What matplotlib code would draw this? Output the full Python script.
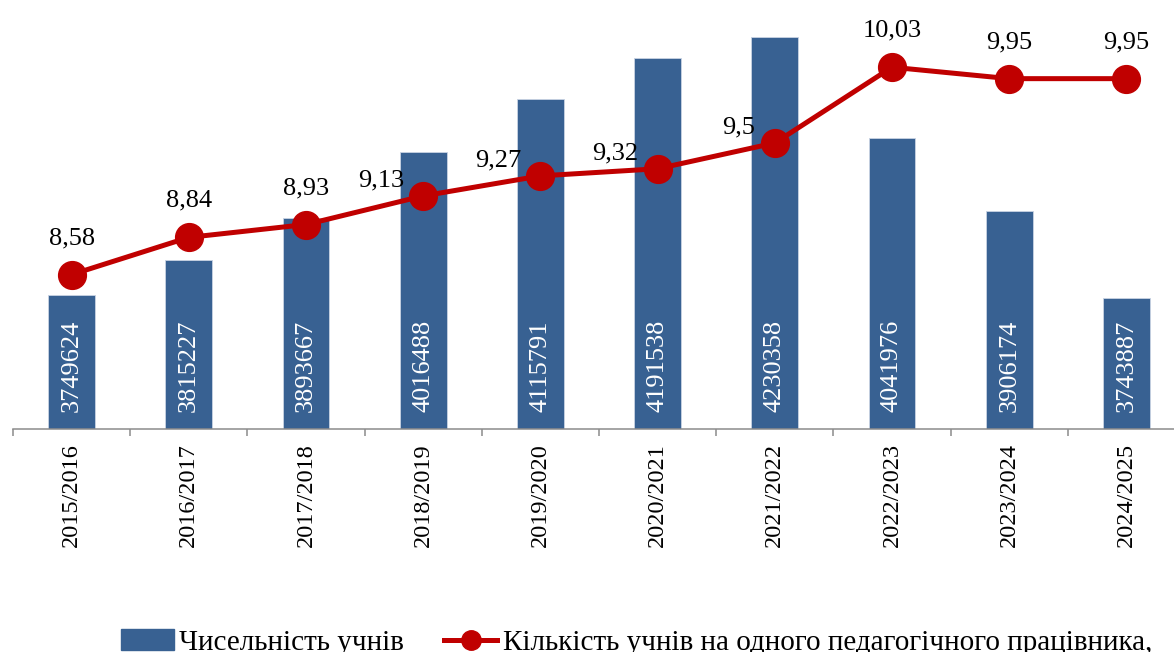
import numpy as np
import matplotlib
import matplotlib.pyplot as plt
from matplotlib.ticker import FixedLocator

matplotlib.use('agg')
plt.rcParams['font.family'] = ['Liberation Serif', 'DejaVu Serif']

years = ["2015/2016", "2016/2017", "2017/2018", "2018/2019", "2019/2020",
         "2020/2021", "2021/2022", "2022/2023", "2023/2024", "2024/2025"]
pupils = [3749624, 3815227, 3893667, 4016488, 4115791,
          4191538, 4230358, 4041976, 3906174, 3743887]
ratio = [8.58, 8.84, 8.93, 9.13, 9.27, 9.32, 9.5, 10.03, 9.95, 9.95]
ratio_labels = ["8,58", "8,84", "8,93", "9,13", "9,27", "9,32", "9,5", "10,03", "9,95", "9,95"]

BAR_COLOR = "#386192"
LINE_COLOR = "#C00000"

fig = plt.figure(figsize=(11.74, 6.52), dpi=100)
ax = fig.add_axes([13 / 1174, 223 / 652, 1172 / 1174, 429 / 652])
x = np.arange(len(years))

ax.bar(x, pupils, width=0.4, color=BAR_COLOR, edgecolor="#c9d3e3", linewidth=0.6, zorder=2)
ax.set_ylim(3500000, 4300000)
ax.set_xlim(-0.5, len(years) - 0.5)

for xi, val in zip(x, pupils):
    ax.annotate(str(val), (xi, 3500000), xytext=(0, 12), textcoords="offset points",
                rotation=90, ha="center", va="bottom", color="white", fontsize=19, zorder=3)

for side in ["left", "right", "top"]:
    ax.spines[side].set_visible(False)
ax.spines["bottom"].set_color("#8c8c8c")
ax.spines["bottom"].set_linewidth(1.1)
ax.set_yticks([])
ax.set_xticks(x)
ax.set_xticklabels(years, rotation=90, fontsize=17.5)
ax.xaxis.set_minor_locator(FixedLocator(np.arange(-0.5, len(years), 1.0)))
ax.tick_params(axis="x", which="major", length=0, pad=10)
ax.tick_params(axis="x", which="minor", length=5, width=1.1, color="#8c8c8c", direction="out")

ax2 = ax.twinx()
ax2.plot(x, ratio, color=LINE_COLOR, lw=3.6, marker="o", markersize=20, zorder=4)
ax2.set_ylim(7.5, 10.5)
ax2.set_yticks([])
for side in ["left", "right", "top", "bottom"]:
    ax2.spines[side].set_visible(False)

for i, (xi, val, lab) in enumerate(zip(x, ratio, ratio_labels)):
    if 3 <= i <= 6:
        ax2.annotate(lab, (xi, val), xytext=(-14, 7), textcoords="offset points",
                     ha="right", va="baseline", fontsize=19)
    else:
        ax2.annotate(lab, (xi, val), xytext=(0, 22), textcoords="offset points",
                     ha="center", va="baseline", fontsize=19)

bar_handle = matplotlib.patches.Patch(color=BAR_COLOR)
line_handle = matplotlib.lines.Line2D([], [], color=LINE_COLOR, lw=3.6, marker="o", markersize=14)
fig.legend([bar_handle, line_handle],
           ["Чисельність учнів", "Кількість учнів на одного педагогічного працівника,"],
           loc="lower left", bbox_to_anchor=(121 / 1174, -0.006), ncol=2, frameon=False,
           fontsize=21, handlelength=1.8, handletextpad=0.2, columnspacing=1.38,
           borderpad=0, borderaxespad=0)

fig.savefig("out.png", dpi=100)
